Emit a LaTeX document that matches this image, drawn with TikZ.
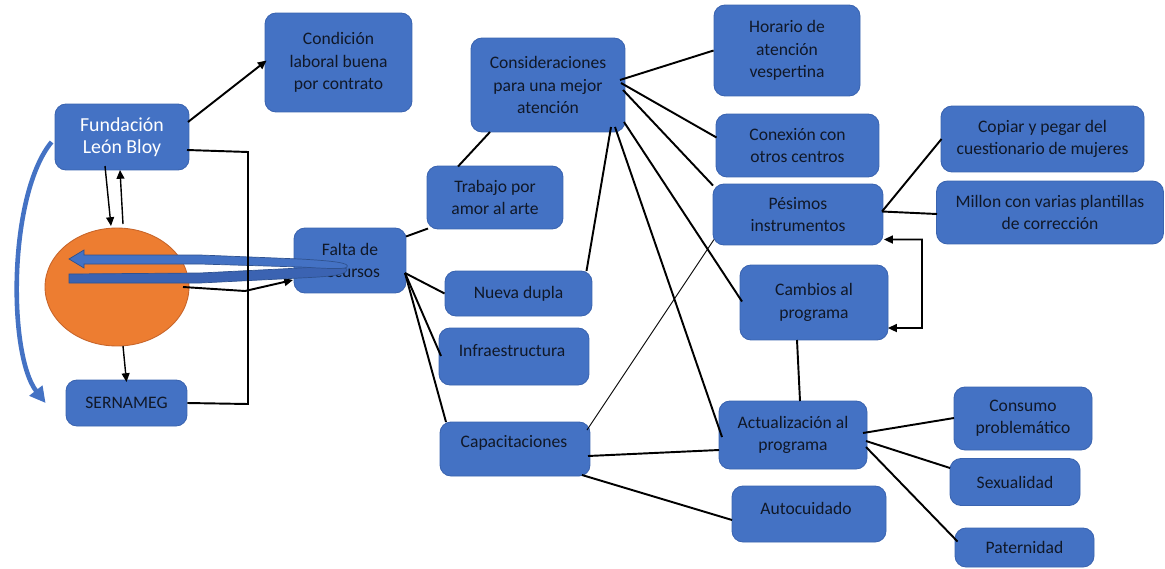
\documentclass[tikz,border=0pt]{standalone}
\usepackage{fontspec}
\setmainfont{Carlito}
\usetikzlibrary{arrows.meta,shapes.geometric,calc}
\definecolor{boxblue}{HTML}{4472C4}
\definecolor{boxedge}{HTML}{3A64B0}
\definecolor{orangefill}{HTML}{ED7D31}
\definecolor{orangeedge}{HTML}{C8652A}
\definecolor{banddark}{HTML}{3B63B2}
\definecolor{bandedge}{HTML}{2F528F}
\definecolor{txt}{HTML}{101828}
\tikzset{
  box/.style={rectangle, rounded corners=0.22cm, fill=boxblue, draw=boxedge, line width=0.5pt,
    align=center, font=\fontsize{10}{12.7}\selectfont, text=txt, inner sep=1pt},
  lbl/.style={align=center, font=\fontsize{10}{12.7}\selectfont, text=txt, inner sep=0pt},
  ln/.style={line width=1.1pt, black},
  thin ln/.style={line width=0.5pt, black},
  arr/.style={ln, -{Triangle[length=5pt,width=4.5pt]}},
}
\begin{document}
\begin{tikzpicture}[x=0.02cm, y=-0.02cm]
\useasboundingbox[fill=white] (0,0) rectangle (1165,568);

% ---- nodes ----
\node[box, minimum width=2.94cm, minimum height=1.98cm] (cond) at (338.5,62.5) {Condición\\laboral buena\\por contrato};
\node[box, minimum width=2.68cm, minimum height=1.32cm, text=white, font=\fontsize{11.3}{12.6}\selectfont] (fund) at (122,137) {Fundación\\León Bloy};
\node[ellipse, fill=orangefill, draw=orangeedge, line width=0.5pt, minimum width=2.88cm, minimum height=2.36cm] (ell) at (117,287) {};
\node[box, minimum width=2.42cm, minimum height=0.92cm] (sern) at (126.5,403) {SERNAMEG};
\node[box, minimum width=2.24cm, minimum height=1.30cm] (falta) at (350,260.5) {Falta de\\recursos};
\node[box, minimum width=2.72cm, minimum height=1.26cm] (trab) at (495,197.5) {Trabajo por\\amor al arte};
\node[box, minimum width=3.08cm, minimum height=1.88cm] (cons) at (548,85) {Consideraciones\\para una mejor\\atención};
\node[box, minimum width=2.92cm, minimum height=1.82cm] (hor) at (787,50.5) {Horario de\\atención\\vespertina};
\node[box, minimum width=3.26cm, minimum height=1.26cm] (conx) at (797.5,145.5) {Conexión con\\otros centros};
\node[box, minimum width=3.40cm, minimum height=1.22cm] (pes) at (798,214.5) {Pésimos\\instrumentos};
\node[box, minimum width=4.06cm, minimum height=1.32cm] (cop) at (1042.5,139) {Copiar y pegar del\\cuestionario de mujeres};
\node[box, minimum width=4.54cm, minimum height=1.26cm] (mil) at (1050,212.5) {Millon con varias plantillas\\de corrección};
\node[box, minimum width=2.96cm, minimum height=1.50cm] (camb) at (814,302.5) {Cambios al\\programa};
\node[box, minimum width=2.94cm, minimum height=0.90cm] (nueva) at (518.5,293.5) {Nueva dupla};
\node[box, minimum width=3.00cm, minimum height=1.14cm] (infra) at (514,356.5) {};
\node[lbl] (infrat) at (512,351) {Infraestructura};
\node[box, minimum width=3.00cm, minimum height=1.08cm] (capac) at (515,449) {};
\node[lbl] (capact) at (514,443) {Capacitaciones};
\node[box, minimum width=2.96cm, minimum height=1.36cm] (act) at (793,435) {Actualización al\\programa};
\node[box, minimum width=3.08cm, minimum height=1.12cm] (auto) at (809,514) {};
\node[lbl] (autot) at (806,508) {Autocuidado};
\node[box, minimum width=2.76cm, minimum height=1.26cm] (consumo) at (1023,418.5) {Consumo\\problemático};
\node[box, minimum width=2.60cm, minimum height=0.94cm] (sex) at (1015,482) {Sexualidad};
\node[box, minimum width=2.78cm, minimum height=0.78cm] (pat) at (1024.5,547.5) {Paternidad};

% ---- connectors ----
\draw[arr] ($(fund.center)+(66,-15)$) -- ($(cond.west)+(2,-2)$);
\draw[arr, line width=0.8pt] ($(fund.center)+(-17,29)$) -- ($(ell.center)+(-6,-61)$);
\draw[arr, line width=0.8pt] ($(ell.center)+(6,-63)$) -- ($(fund.center)+(-2,33)$);
\draw[arr, line width=0.8pt] ($(ell.center)+(6,59)$) -- ($(sern.center)+(0,-21)$);
\coordinate (j3) at (245,291);
\draw[arr] ($(ell.center)+(66,0)$) -- (j3) -- ($(falta.center)+(-57,19.5)$);

\draw[ln] ($(falta.center)+(56,-24)$) -- ($(trab.center)+(-67,31)$);
\draw[ln] ($(trab.center)+(-37,-31)$) -- ($(cons.center)+(-58,47)$);
\coordinate (fp) at ($(falta.center)+(55,12.5)$);
\draw[ln] (fp) -- (nueva.west);
\draw[ln] (fp) -- ($(infra.center)+(-73,-0.5)$);
\draw[ln] (fp) -- ($(capac.center)+(-69,-27)$);
\draw[ln] ($(nueva.center)+(68,-22.5)$) -- ($(cons.center)+(63,42)$);

\draw[ln] ($(cons.center)+(72,-5)$) -- (hor.west);
\draw[ln] ($(cons.center)+(73,-2)$) -- ($(conx.center)+(-81,-8)$);
\draw[ln] ($(cons.center)+(75,5)$) -- ($(pes.center)+(-85,-29)$);
\draw[ln] ($(cons.center)+(76,37)$) -- ($(camb.center)+(-72,-1)$);
\draw[ln] ($(cons.center)+(67,42)$) -- ($(act.center)+(-71,2)$);
\draw[thin ln] ($(pes.center)+(-84,25)$) -- ($(capac.center)+(72,-19)$);

\draw[ln] ($(pes.center)+(84,-3)$) -- ($(cop.center)+(-101,0)$);
\draw[ln] ($(pes.center)+(84,-3)$) -- ($(mil.center)+(-113,1.5)$);
\coordinate (j4) at (922,239.5);
\coordinate (j5) at (922,328);
\draw[ln, {Triangle[length=5pt,width=4.5pt]}-{Triangle[length=5pt,width=4.5pt]}] ($(pes.center)+(86,25)$) -- (j4) -- (j5) -- ($(camb.center)+(74,25.5)$);
\draw[ln] ($(camb.center)+(-17,37.5)$) -- ($(act.center)+(7,-34)$);

\draw[ln] ($(capac.center)+(73,7)$) -- ($(act.center)+(-74,15)$);
\draw[ln] ($(capac.center)+(67,26)$) -- ($(auto.center)+(-77,6)$);
\draw[ln] ($(act.center)+(70,-2)$) -- ($(consumo.center)+(-69,-0.5)$);
\draw[ln] ($(act.center)+(73,6)$) -- ($(sex.center)+(-65,-14)$);
\draw[ln] ($(act.center)+(73,12)$) -- ($(pat.center)+(-67,-6)$);

% ---- blue curved arrow on the left ----
\draw[boxblue, line width=2.6pt, -{Triangle[length=9pt,width=9pt]}]
  ($(fund.west)+(-3,5)$) .. controls (8,195) and (8,355) .. ($(sern.west)+(-20,0)$);

% ---- U-turn band arrow ----
\filldraw[fill=banddark, draw=bandedge, line width=0.4pt]
  (69,274) -- (200,273) -- (300,268) .. controls (335,266) and (348,267) .. (347,270)
  .. controls (346,276) and (320,277) .. (300,278) -- (200,283) -- (69,283) -- cycle;
\filldraw[fill=boxblue, draw=bandedge, line width=0.4pt]
  (69,259) -- (84,250) -- (84,255) -- (200,255) -- (300,259)
  .. controls (335,261) and (350,263) .. (347,267)
  .. controls (345,270) and (320,268) .. (300,267) -- (200,264) -- (84,264) -- (84,268) -- cycle;

% ---- Fundación to SERNAMEG line (over the band) ----
\coordinate (j1) at (248,152);
\coordinate (j2) at (248,404);
\draw[ln] ($(fund.center)+(65,13)$) -- (j1) -- (j2) -- (sern.east);
\end{tikzpicture}
\end{document}
